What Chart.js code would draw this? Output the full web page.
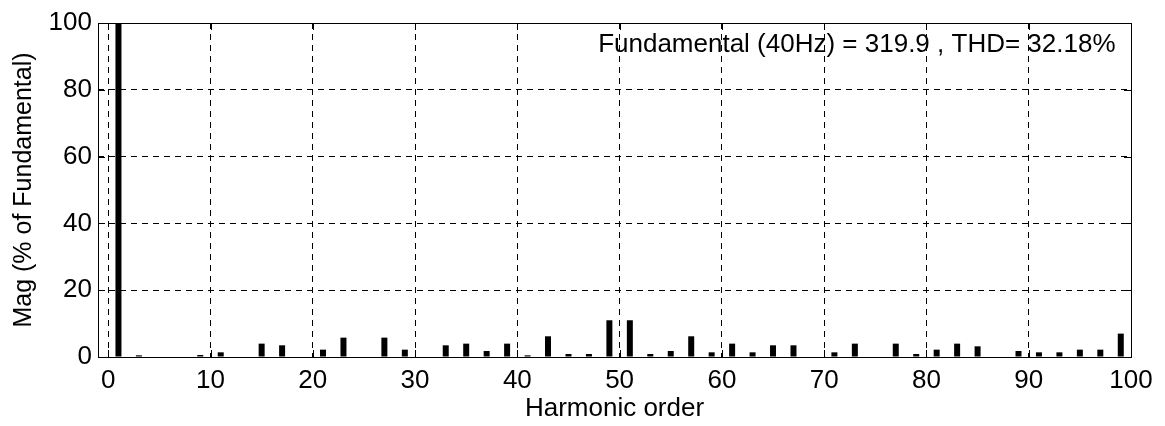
<!DOCTYPE html>
<html>
<head>
<meta charset="utf-8">
<title>Harmonic spectrum</title>
<script src="https://cdn.jsdelivr.net/npm/chart.js@4/dist/chart.umd.min.js"></script>
<style>
  html, body { margin: 0; padding: 0; background: #fff; }
  canvas { display: block; }
</style>
</head>
<body>
<canvas id="fft" width="1165" height="426"></canvas>
<script>
// harmonic orders and their magnitudes (% of fundamental)
const harmonicOrder = [1, 3, 5, 7, 9, 11, 13, 15, 17, 19, 21, 23, 25, 27, 29, 31, 33, 35, 37, 39,
  41, 43, 45, 47, 49, 51, 53, 55, 57, 59, 61, 63, 65, 67, 69, 71, 73, 75, 77, 79,
  81, 83, 85, 87, 89, 91, 93, 95, 97, 99];
const magnitude = [100, 0.5, 0, 0, 0.6, 1.4, 0, 4.0, 3.5, 0, 2.2, 5.8, 0, 5.8, 2.2, 0, 3.5, 4.0, 1.8, 4.0,
  0.5, 6.2, 0.9, 0.9, 11.0, 11.0, 0.9, 1.8, 6.2, 1.4, 4.0, 1.4, 3.5, 3.5, 0, 1.4, 4.0, 0, 4.0, 0.9,
  2.2, 4.0, 3.2, 0, 1.8, 1.4, 1.4, 2.2, 2.2, 7.0];

const xTicks = [0, 10, 20, 30, 40, 50, 60, 70, 80, 90, 100];
const yTicks = [0, 20, 40, 60, 80, 100];

const fundamentalHz = 40;
const fundamentalMag = 319.9;
const thd = 32.18;
const infoText = 'Fundamental (' + fundamentalHz + 'Hz) = ' + fundamentalMag + ' , THD= ' + thd + '%';

const FONT = 'Liberation Sans, Arial, sans-serif';

// box around the axes with short inward tick marks, plus the THD note
const axesBox = {
  id: 'axesBox',
  afterDraw(chart) {
    const { ctx, chartArea: a, scales } = chart;
    const tl = 7;
    ctx.save();
    ctx.strokeStyle = '#000';
    ctx.lineWidth = 1;
    ctx.beginPath();
    xTicks.forEach(v => {
      const px = Math.round(scales.x.getPixelForValue(v)) + 0.5;
      ctx.moveTo(px, a.bottom); ctx.lineTo(px, a.bottom - tl);
      ctx.moveTo(px, a.top); ctx.lineTo(px, a.top + tl);
    });
    yTicks.forEach(v => {
      const py = Math.round(scales.y.getPixelForValue(v)) + 0.5;
      ctx.moveTo(a.left, py); ctx.lineTo(a.left + tl, py);
      ctx.moveTo(a.right, py); ctx.lineTo(a.right - tl, py);
    });
    ctx.stroke();
    ctx.strokeRect(Math.round(a.left) + 0.5, Math.round(a.top) + 0.5,
      Math.round(a.right - a.left), Math.round(a.bottom - a.top));

    ctx.fillStyle = '#000';
    ctx.font = '26px ' + FONT;
    ctx.textAlign = 'left';
    ctx.textBaseline = 'middle';
    ctx.fillText(infoText, scales.x.getPixelForValue(47.9), scales.y.getPixelForValue(93.4));
    ctx.restore();
  }
};

new Chart(document.getElementById('fft'), {
  type: 'bar',
  data: {
    datasets: [{
      data: harmonicOrder.map((h, i) => ({ x: h, y: magnitude[i] })),
      backgroundColor: '#000',
      borderWidth: 0,
      inflateAmount: 0,
      barThickness: 6
    }]
  },
  options: {
    responsive: false,
    animation: false,
    layout: { padding: { top: 23, right: 34, left: 0, bottom: 0 } },
    plugins: { legend: { display: false }, tooltip: { enabled: false } },
    scales: {
      x: {
        type: 'linear',
        min: -1,
        max: 100,
        offset: false,
        afterBuildTicks: s => { s.ticks = xTicks.map(v => ({ value: v })); },
        afterFit: s => { s.height = 69; },
        ticks: { color: '#000', font: { family: FONT, size: 26 }, padding: 8, maxRotation: 0 },
        grid: { color: '#000', lineWidth: 1, drawTicks: false, offset: false },
        border: { display: false, dash: [6, 5] },
        title: {
          display: true, text: 'Harmonic order', color: '#000',
          font: { family: FONT, size: 26 }, padding: { top: 0, bottom: 2 }
        }
      },
      y: {
        min: 0,
        max: 100,
        afterBuildTicks: s => { s.ticks = yTicks.map(v => ({ value: v })); },
        afterFit: s => { s.width = 98; },
        ticks: { color: '#000', font: { family: FONT, size: 26 }, padding: 6 },
        grid: { color: '#000', lineWidth: 1, drawTicks: false },
        border: { display: false, dash: [6, 5] },
        title: {
          display: true, text: 'Mag (% of Fundamental)', color: '#000',
          font: { family: FONT, size: 25 }, padding: { top: 9, bottom: 0 }
        }
      }
    }
  },
  plugins: [axesBox]
});
</script>
</body>
</html>
